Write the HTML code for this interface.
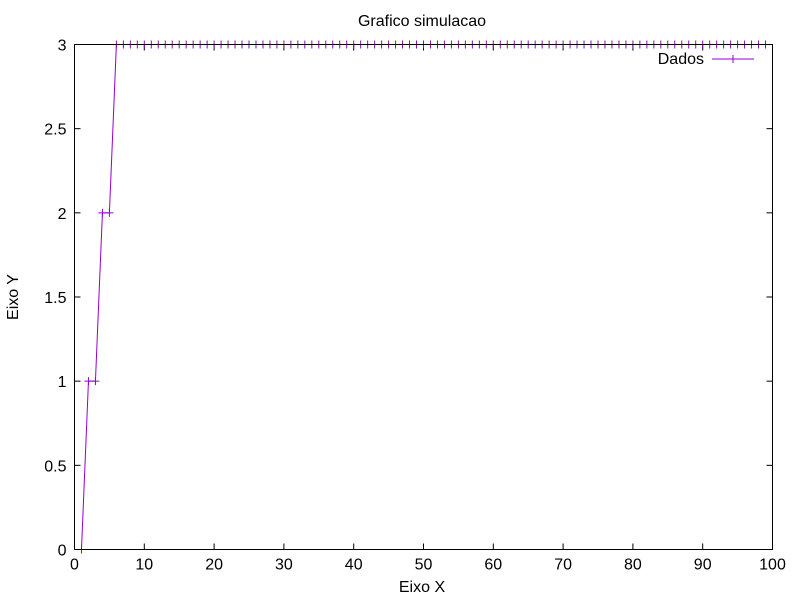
<!DOCTYPE html>
<html><head><meta charset="utf-8"><style>
body{margin:0;background:#fff}
text{font-family:"Liberation Sans",sans-serif;font-size:16px;fill:#000}
</style></head><body>
<svg id="chart" width="800" height="600" xmlns="http://www.w3.org/2000/svg">
<rect width="800" height="600" fill="#fff"/>
<text x="422" y="26" text-anchor="middle">Grafico simulacao</text>
<text x="422" y="592" text-anchor="middle">Eixo X</text>
<text transform="translate(18,297) rotate(-90)" text-anchor="middle">Eixo Y</text>
<g id="axes"></g>
<g id="series"></g>
<g>
<text x="704" y="64" text-anchor="end">Dados</text>
<line x1="712" y1="59" x2="754" y2="59" stroke="#9400d3" stroke-width="1"/>
<line x1="733" y1="55" x2="733" y2="63" stroke="#9400d3"/>
</g>
<rect x="74.5" y="44.5" width="698" height="505" fill="none" stroke="#000"/>
</svg>
<script>
const xTicks=[0,10,20,30,40,50,60,70,80,90,100];
const yTicks=[0,0.5,1,1.5,2,2.5,3];
const yTickLabels=["0","0.5","1","1.5","2","2.5","3"];
const xValues=[];for(let i=1;i<=99;i++)xValues.push(i);
const yValues=[0,1,1,2,2].concat(new Array(94).fill(3));
const L=74.5,R=772.5,T=44.5,B=549.5;
const sx=v=>L+(v-0)/(100-0)*(R-L);
const sy=v=>B-(v-0)/(3-0)*(B-T);
const NS="http://www.w3.org/2000/svg";
const axes=document.getElementById('axes');
function mk(tag,attrs,parent){const e=document.createElementNS(NS,tag);for(const k in attrs)e.setAttribute(k,attrs[k]);parent.appendChild(e);return e;}
xTicks.forEach(v=>{
  const x=sx(v);
  const t=mk('line',{x1:x,y1:B,x2:x,y2:B-6,stroke:'#000'},axes);
  
  
  mk('line',{x1:x,y1:T,x2:x,y2:T+6,stroke:'#000'},axes);
  const l=mk('text',{x:x,y:B+20,'text-anchor':'middle'},axes);l.textContent=v;
  
  
});
yTicks.forEach((v,i)=>{
  const y=sy(v);
  const t=mk('line',{x1:L,y1:y,x2:L+6,y2:y,stroke:'#000'},axes);
  
  
  mk('line',{x1:R,y1:y,x2:R-6,y2:y,stroke:'#000'},axes);
  const l=mk('text',{x:L-8,y:y+6,'text-anchor':'end'},axes);l.textContent=yTickLabels[i];
  
  
});
const s=document.getElementById('series');
const pts=xValues.map((x,i)=>sx(x)+','+sy(yValues[i])).join(' ');
const pl=mk('polyline',{points:pts,fill:'none',stroke:'#9400d3','stroke-width':1},s);


xValues.forEach((x,i)=>{
  const px=sx(x),py=sy(yValues[i]);
  const g=mk('path',{d:`M${px-4},${py}H${px+4}M${px},${py-4}V${py+4}`,stroke:'#9400d3','stroke-width':1,fill:'none'},s);
  
  
});
</script>
</body></html>
